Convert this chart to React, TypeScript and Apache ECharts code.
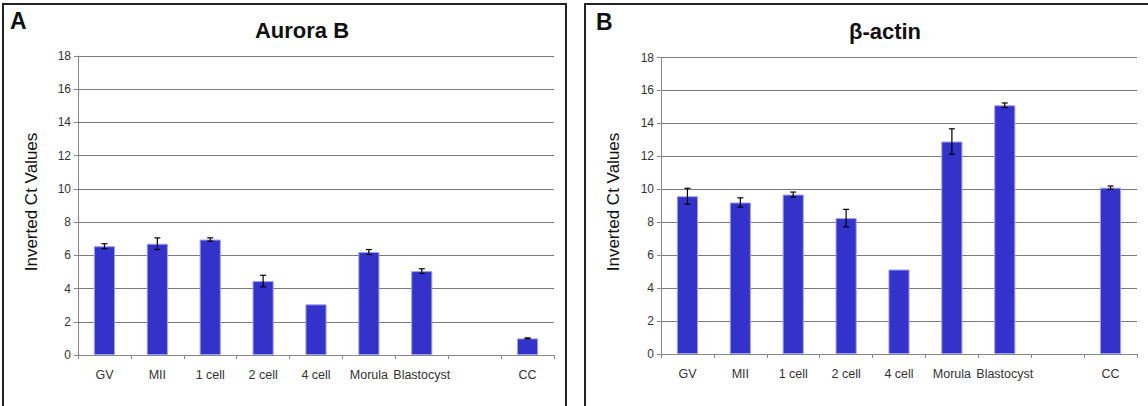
import React, { useEffect, useRef } from "react";
import * as echarts from "echarts";

const categories = ["GV", "MII", "1 cell", "2 cell", "4 cell", "Morula", "Blastocyst", "", "CC"];
const auroraValues: (number | null)[] = [6.55, 6.7, 6.95, 4.45, 3.05, 6.2, 5.05, null, 1.0];
const auroraErrors: (number | null)[] = [0.15, 0.35, 0.1, 0.35, null, 0.15, 0.14, null, 0.03];
const actinValues: (number | null)[] = [9.58, 9.2, 9.68, 8.25, 5.13, 12.9, 15.1, null, 10.1];
const actinErrors: (number | null)[] = [0.48, 0.28, 0.15, 0.53, null, 0.77, 0.14, null, 0.1];
const yTicks = { min: 0, max: 18, interval: 2 };
const titles = ["Aurora B", "β-actin"];
const panelLabels = ["A", "B"];
const yName = "Inverted Ct Values";

const FONT = "Arial, 'Liberation Sans', sans-serif";

function errData(vals: (number | null)[], errs: (number | null)[]) {
  const out: number[][] = [];
  vals.forEach((v, i) => {
    const e = errs[i];
    if (v != null && e != null) out.push([i, v, e]);
  });
  return out;
}

const errRender = (params: any, api: any) => {
  const x = api.value(0);
  const v = api.value(1);
  const e = api.value(2);
  const top = api.coord([x, v + e]);
  const bot = api.coord([x, v - e]);
  const hw = 3;
  const st = { stroke: "#000", lineWidth: 1.2 };
  return {
    type: "group",
    children: [
      { type: "line", shape: { x1: top[0], y1: top[1], x2: bot[0], y2: bot[1] }, style: st },
      { type: "line", shape: { x1: top[0] - hw, y1: top[1], x2: top[0] + hw, y2: top[1] }, style: st },
      { type: "line", shape: { x1: bot[0] - hw, y1: bot[1], x2: bot[0] + hw, y2: bot[1] }, style: st },
    ],
  };
};

export default function App() {
  const ref = useRef<HTMLDivElement>(null);
  useEffect(() => {
    document.body.style.margin = "0";
    if (!ref.current) return;
    const chart = echarts.init(ref.current, null, { renderer: "svg" });

    const xAxisBase = (gridIndex: number) => ({
      type: "category" as const,
      gridIndex,
      data: categories,
      boundaryGap: true,
      axisLine: { lineStyle: { color: "#888", width: 1 } },
      axisTick: { show: true, length: 4, alignWithLabel: false, lineStyle: { color: "#888" } },
      axisLabel: { color: "#333", fontSize: 12.5, fontFamily: FONT, margin: 13, interval: 0 },
      splitLine: { show: false },
    });
    const yAxisBase = (gridIndex: number) => ({
      type: "value" as const,
      gridIndex,
      min: yTicks.min,
      max: yTicks.max,
      interval: yTicks.interval,
      axisLine: { show: true, lineStyle: { color: "#888", width: 1 } },
      axisTick: { show: true, length: 4, lineStyle: { color: "#888" } },
      axisLabel: { color: "#333", fontSize: 12, fontFamily: FONT, margin: 7 },
      splitLine: { show: true, lineStyle: { color: "#7a7a7a", width: 1 } },
    });
    const barStyle = { color: "#3333CC", borderColor: "#A0A0F0", borderWidth: 1 };

    chart.setOption({
      animation: false,
      backgroundColor: "#fff",
      grid: [
        { left: 78, right: 1148 - 554, top: 56, bottom: 406 - 355 },
        { left: 661, right: 1148 - 1137, top: 57.5, bottom: 406 - 354 },
      ],
      xAxis: [xAxisBase(0), xAxisBase(1)],
      yAxis: [yAxisBase(0), yAxisBase(1)],
      series: [
        {
          type: "bar",
          xAxisIndex: 0,
          yAxisIndex: 0,
          data: auroraValues.map((v) => (v == null ? "-" : v)),
          barWidth: "40%",
          itemStyle: barStyle,
        },
        {
          type: "custom",
          xAxisIndex: 0,
          yAxisIndex: 0,
          data: errData(auroraValues, auroraErrors),
          encode: { x: 0, y: 1 },
          renderItem: errRender,
          z: 10,
        },
        {
          type: "bar",
          xAxisIndex: 1,
          yAxisIndex: 1,
          data: actinValues.map((v) => (v == null ? "-" : v)),
          barWidth: "40%",
          itemStyle: barStyle,
        },
        {
          type: "custom",
          xAxisIndex: 1,
          yAxisIndex: 1,
          data: errData(actinValues, actinErrors),
          encode: { x: 0, y: 1 },
          renderItem: errRender,
          z: 10,
        },
      ],
      graphic: [
        {
          type: "polyline",
          shape: { points: [[3, 410], [3, 4], [566, 4], [566, 410]] },
          style: { stroke: "#222", lineWidth: 2, fill: null },
        },
        {
          type: "polyline",
          shape: { points: [[585, 410], [585, 4], [1150, 4]] },
          style: { stroke: "#222", lineWidth: 2, fill: null },
        },
        {
          type: "text",
          x: 302,
          y: 30,
          style: { text: titles[0], font: `bold 22px ${FONT}`, fill: "#111", textAlign: "center", textVerticalAlign: "middle" },
        },
        {
          type: "text",
          x: 885,
          y: 31,
          style: { text: titles[1], font: `bold 22px ${FONT}`, fill: "#111", textAlign: "center", textVerticalAlign: "middle" },
        },
        {
          type: "text",
          x: 10,
          y: 21,
          style: { text: panelLabels[0], font: `bold 23px ${FONT}`, fill: "#111", textAlign: "left", textVerticalAlign: "middle", shadowColor: "rgba(0,0,0,0.45)", shadowBlur: 2, shadowOffsetX: 1.5, shadowOffsetY: 1.5 },
        },
        {
          type: "text",
          x: 596,
          y: 22,
          style: { text: panelLabels[1], font: `bold 23px ${FONT}`, fill: "#111", textAlign: "left", textVerticalAlign: "middle", shadowColor: "rgba(0,0,0,0.45)", shadowBlur: 2, shadowOffsetX: 1.5, shadowOffsetY: 1.5 },
        },
        {
          type: "text",
          x: 31,
          y: 202,
          rotation: Math.PI / 2,
          style: { text: yName, font: `17px ${FONT}`, fill: "#111", textAlign: "center", textVerticalAlign: "middle" },
        },
        {
          type: "text",
          x: 613,
          y: 202,
          rotation: Math.PI / 2,
          style: { text: yName, font: `17px ${FONT}`, fill: "#111", textAlign: "center", textVerticalAlign: "middle" },
        },
      ],
    });
    return () => chart.dispose();
  }, []);
  return <div ref={ref} style={{ width: 1148, height: 406 }} />;
}
